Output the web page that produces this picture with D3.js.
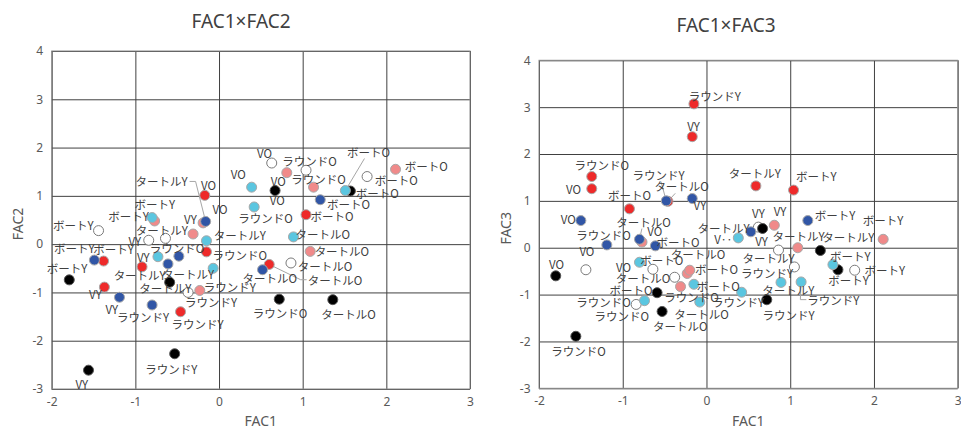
<!DOCTYPE html>
<html>
<head>
<meta charset="utf-8">
<script src="https://cdn.jsdelivr.net/npm/d3@7"></script>
<style>
  body { margin: 0; background: #fff; }
  svg text { font-family: "Noto Sans CJK JP", "Noto Sans", sans-serif; }
</style>
</head>
<body>
<svg id="chart" width="961" height="426"></svg>
<script>
// groups in drawing order (white, black, red, pink, cyan, blue)
const groups = ["G1", "G2", "G3", "G4", "G5", "G6"];
const xTicks = [-2, -1, 0, 1, 2, 3];
const yTicks = [-3, -2, -1, 0, 1, 2, 3, 4];

// FAC1 x FAC2 : [group, FAC1, FAC2, label]
const pointsFac2 = [
  ["G1", -1.44, 0.28, "ボートY"], ["G1", -0.84, 0.08, "VY"], ["G1", -0.64, 0.12, "タートルY"], ["G1", -0.37, -1.00, "ラウンドY"],
  ["G1", 0.63, 1.68, "VO"], ["G1", 1.04, 1.53, "VO"], ["G1", 0.86, -0.39, "タートルO"], ["G1", 1.77, 1.40, "ボートO"],
  ["G2", -1.79, -0.74, "ボートY"], ["G2", -1.56, -2.61, "VY"], ["G2", -0.59, -0.79, "タートルY"], ["G2", -0.53, -2.27, "ラウンドY"],
  ["G2", 0.67, 1.11, "VO"], ["G2", 0.72, -1.14, "ラウンドO"], ["G2", 1.36, -1.15, "タートルO"], ["G2", 1.57, 1.10, "ボートO"],
  ["G3", -1.38, -0.35, "ボートY"], ["G3", -1.37, -0.89, "VY"], ["G3", -0.92, -0.47, "VY"], ["G3", -0.46, -1.40, "ラウンドY"],
  ["G3", -0.17, 1.01, "VO"], ["G3", -0.15, -0.16, "ラウンドO"], ["G3", 0.60, -0.42, "タートルO"], ["G3", 1.04, 0.61, "ボートO"],
  ["G4", -0.77, 0.48, "ボートY"], ["G4", -0.31, 0.21, "VY"], ["G4", -0.19, 0.44, "VO"], ["G4", -0.23, -0.96, "ラウンドY"],
  ["G4", 0.81, 1.48, "ラウンドO"], ["G4", 1.13, 1.18, "ラウンドO"], ["G4", 1.09, -0.15, "タートルO"], ["G4", 2.11, 1.55, "ボートO"],
  ["G5", -0.80, 0.55, "ボートY"], ["G5", -0.73, -0.26, "ラウンドO"], ["G5", -0.15, 0.07, "タートルY"], ["G5", -0.07, -0.50, "タートルY"],
  ["G5", 0.39, 1.18, "VO"], ["G5", 0.42, 0.77, "ラウンドO"], ["G5", 0.89, 0.15, "タートルO"], ["G5", 1.51, 1.11, "ボートO"],
  ["G6", -1.49, -0.33, "ボートY"], ["G6", -1.19, -1.10, "VY"], ["G6", -0.80, -1.26, "ラウンドY"], ["G6", -0.61, -0.41, "タートルY"],
  ["G6", -0.48, -0.25, ""], ["G6", -0.16, 0.47, "タートルY"], ["G6", 0.52, -0.53, "タートルO"], ["G6", 1.21, 0.92, "ボートO"]
];

// FAC1 x FAC3 : [group, FAC1, FAC3, label]
const pointsFac3 = [
  ["G1", -1.44, -0.47, "VO"], ["G1", -0.84, -1.21, "ラウンドO"], ["G1", -0.64, -0.46, "ボートO"], ["G1", -0.38, -0.63, "タートルO"],
  ["G1", 0.62, 0.44, "VY"], ["G1", 0.86, -0.05, "タートルY"], ["G1", 1.05, -0.41, "ラウンドY"], ["G1", 1.77, -0.48, "ボートY"],
  ["G2", -1.80, -0.60, "VO"], ["G2", -1.56, -1.89, "ラウンドO"], ["G2", -0.59, -0.96, "ボートO"], ["G2", -0.53, -1.36, "タートルO"],
  ["G2", 0.67, 0.41, "VY"], ["G2", 0.72, -1.11, "ラウンドY"], ["G2", 1.36, -0.06, "タートルY"], ["G2", 1.57, -0.47, "ボートY"],
  ["G3", -1.37, 1.52, "ラウンドO"], ["G3", -1.37, 1.26, "VO"], ["G3", -0.92, 0.83, "ボートO"], ["G3", -0.46, 0.99, "タートルO"],
  ["G3", -0.15, 3.07, "ラウンドY"], ["G3", -0.17, 2.37, "VY"], ["G3", 0.59, 1.32, "タートルY"], ["G3", 1.04, 1.23, "ボートY"],
  ["G4", -0.77, 0.12, "VO"], ["G4", -0.31, -0.83, "ラウンドO"], ["G4", -0.23, -0.55, "ボートO"], ["G4", -0.20, -0.48, "タートルO"],
  ["G4", 0.81, 0.48, "VY"], ["G4", 1.09, 0.00, "タートルY"], ["G4", 2.11, 0.18, "ボートY"],
  ["G5", -0.80, -0.31, "VO"], ["G5", -0.74, -1.13, "ラウンドO"], ["G5", -0.15, -0.78, "ボートO"], ["G5", -0.08, -1.16, "タートルO"],
  ["G5", 0.38, 0.21, "V‥"], ["G5", 0.42, -0.95, "ラウンドY"], ["G5", 0.89, -0.74, "タートルY"], ["G5", 1.13, -0.73, "ラウンドY"],
  ["G5", 1.51, -0.36, "ボートY"],
  ["G6", -1.50, 0.58, "VO"], ["G6", -1.19, 0.06, "ラウンドO"], ["G6", -0.80, 0.18, "タートルO"], ["G6", -0.61, 0.04, "ボートO"],
  ["G6", -0.48, 1.00, "ラウンドY"], ["G6", -0.17, 1.05, "VY"], ["G6", 0.53, 0.34, "タートルY"], ["G6", 1.21, 0.58, "ボートY"]
];

// label placement (px from the point) + leader type: 1 straight, 2 elbow
const nudgeFac2 = [
  [-25.3, -6], [-14, 0.3], [-3.7, -8.7], [23, 10], [-7.3, -10], [-28.7, 29.3], [34, 2.7], [29.3, 3.7],
  [-2.3, -11.7], [-6.7, 14], [-4.3, 5.7], [-3.3, 15], [3.3, -9.3], [0.7, 13.7], [15.7, 14.7], [27, 2],
  [10, -12], [-9, 7.3], [1.3, -9.7], [17, 12.3], [3.7, -10], [33.3, 2.7], [65.7, 15.3, 2], [26, 1],
  [-26, -4.7], [-2.7, -14.7], [17, -14.3], [30, -3.3], [22.7, -11.7], [5, -8.3], [31.7, 0], [30.7, -3.3],
  [2.7, -13.3], [19, -9], [33.3, -6], [-25, 5.3], [-13.3, -13], [11.3, 11], [29.3, -2.7], [23.3, -39, 1],
  [-20, -12], [-7.7, 11.7], [-9, 12.3], [-28.3, 11], [0, 0], [-44, -40, 2], [7.3, 8], [28.3, 4.7]
];
const nudgeFac3 = [
  [1, -18.7], [-32.7, -2.3], [9, -9.7], [-31.7, 0.7], [0, -14], [-10, 7.7], [-27.3, 6], [30, -0.7],
  [0.7, -12], [2.7, 15], [-26, -3], [18.3, 14.7], [-1, 12], [21.7, 15], [28, -13.3], [10.7, 10.7],
  [10, -12], [-18.3, 0.3], [0, -14.3], [13.7, -15, 1], [21, -8], [1.3, -10.3], [-1, -13], [22.7, -14],
  [12.7, -10.7], [11, 10.7], [29.3, -5], [8.3, -16], [5.7, -14.3], [0.7, -11.3], [0, -19],
  [-16, 4.7], [-22.7, 15.7], [24.3, 1.3], [1.7, 12.3], [-15, 1.3], [-3.7, 9.7], [7.3, 7.3], [32.3, 17.7, 2], [17.3, -9],
  [-12.7, -1.7], [-3.3, -10.3], [4, -17.7, 1], [22.7, -4.3], [-7.7, -26.3, 1], [7.7, 6.7], [-27.3, -3.3], [27.3, -5.3]
];

const fill = d3.scaleOrdinal().domain(groups)
  .range(["#ffffff", "#000000", "#ee2a2a", "#f08a8a", "#5bc6e0", "#3156a6"]);
const edge = d3.scaleOrdinal().domain(groups)
  .range(["#7a7a7a", "#555555", "#a8a8a8", "#a8a8a8", "#a8a8a8", "#a8a8a8"]);

const svg = d3.select("#chart");

const panels = [
  { title: "FAC1×FAC2", yTitle: "FAC2", points: pointsFac2, nudge: nudgeFac2,
    left: 51.7, right: 470, top: 51, bottom: 389, titleX: 241, titleY: 21, yTitleX: 17 },
  { title: "FAC1×FAC3", yTitle: "FAC3", points: pointsFac3, nudge: nudgeFac3,
    left: 539, right: 957.7, top: 60.3, bottom: 388.3, titleX: 726, titleY: 25, yTitleX: 505 }
];

panels.forEach(p => {
  const x = d3.scaleLinear().domain([-2, 3]).range([p.left, p.right]);
  const y = d3.scaleLinear().domain([-3, 4]).range([p.bottom, p.top]);
  const g = svg.append("g");

  const xAxis = g.append("g")
    .attr("transform", `translate(0,${p.bottom})`)
    .call(d3.axisBottom(x).tickValues(xTicks).tickFormat(d => String(d))
      .tickSize(-(p.bottom - p.top)).tickPadding(8.5));
  const yAxis = g.append("g")
    .attr("transform", `translate(${p.left},0)`)
    .call(d3.axisLeft(y).tickValues(yTicks).tickFormat(d => String(d))
      .tickSize(-(p.right - p.left)).tickPadding(8.5));

  [xAxis, yAxis].forEach(a => {
    a.select(".domain").remove();
    a.selectAll(".tick line").attr("stroke", "#404040").attr("stroke-width", 1);
    a.selectAll(".tick text").attr("fill", "#595959").style("font-size", "12px")
      .style("font-family", "'Noto Sans', sans-serif");
  });

  g.append("rect")
    .attr("x", p.left).attr("y", p.top)
    .attr("width", p.right - p.left).attr("height", p.bottom - p.top)
    .attr("fill", "none").attr("stroke", "#8c8c8c");

  g.append("text")
    .attr("x", p.titleX).attr("y", p.titleY)
    .attr("text-anchor", "middle").attr("dominant-baseline", "central")
    .attr("fill", "#404040").style("font-size", "19px")
    .style("font-family", "'Noto Sans', sans-serif")
    .text(p.title);

  g.append("text")
    .attr("transform", `translate(${p.yTitleX},${(p.top + p.bottom) / 2 + 4}) rotate(-90)`)
    .attr("text-anchor", "middle").attr("dominant-baseline", "central")
    .attr("fill", "#595959").style("font-size", "14px")
    .style("font-family", "'Noto Sans', sans-serif")
    .text(p.yTitle);

  g.append("text")
    .attr("x", (p.left + p.right) / 2).attr("y", 426)
    .attr("text-anchor", "middle")
    .attr("fill", "#595959").style("font-size", "14px")
    .style("font-family", "'Noto Sans', sans-serif")
    .text("FAC1");

  const leaderLayer = g.append("g");

  g.append("g").selectAll("circle")
    .data(p.points)
    .join("circle")
    .attr("cx", d => x(d[1]))
    .attr("cy", d => y(d[2]))
    .attr("r", 5)
    .attr("fill", d => fill(d[0]))
    .attr("stroke", d => edge(d[0]))
    .attr("stroke-width", 1);

  const labels = g.append("g").selectAll("text")
    .data(p.points)
    .join("text")
    .attr("x", (d, i) => x(d[1]) + p.nudge[i][0])
    .attr("y", (d, i) => y(d[2]) + p.nudge[i][1])
    .attr("text-anchor", "middle")
    .attr("dominant-baseline", "central")
    .attr("fill", "#404040")
    .style("font-size", "11.5px")
    .text(d => d[3]);

  labels.each(function (d, i) {
    const kind = p.nudge[i][2];
    if (!kind) return;
    const b = this.getBBox();
    const px = x(d[1]), py = y(d[2]);
    const cx = b.x + b.width / 2, cy = b.y + b.height / 2;
    let pts;
    if (kind === 1) {
      const dx = cx - px, dy = cy - py;
      const hw = b.width / 2 + 1, hh = b.height / 2 - 1;
      const s = Math.min(dx ? hw / Math.abs(dx) : Infinity, dy ? hh / Math.abs(dy) : Infinity);
      const t = 1 - Math.min(s, 1);
      pts = [[px, py], [px + dx * t, py + dy * t]];
    } else {
      const ex = cx > px ? b.x - 1 : b.x + b.width + 1;
      const bx = cx > px ? ex - 6 : ex + 6;
      pts = [[px, py], [bx, cy], [ex, cy]];
    }
    leaderLayer.append("path")
      .attr("d", d3.line()(pts))
      .attr("fill", "none")
      .attr("stroke", "#a6a6a6")
      .attr("stroke-width", 1);
  });
});
</script>
</body>
</html>
